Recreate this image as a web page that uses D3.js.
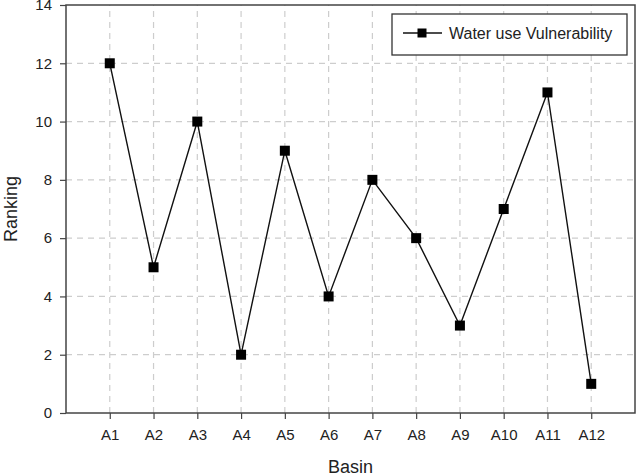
<!DOCTYPE html>
<html>
<head>
<meta charset="utf-8">
<script src="https://cdn.jsdelivr.net/npm/d3@7"></script>
<style>
  body { margin: 0; background: #fff; }
  text { font-family: "Liberation Sans", Arial, sans-serif; fill: #222; }
</style>
</head>
<body>
<div id="viz"></div>
<script>
const basins = ['A1', 'A2', 'A3', 'A4', 'A5', 'A6', 'A7', 'A8', 'A9', 'A10', 'A11', 'A12'];
const ranking = [12, 5, 10, 2, 9, 4, 8, 6, 3, 7, 11, 1];
const yTicks = [0, 2, 4, 6, 8, 10, 12, 14];
const seriesName = 'Water use Vulnerability';

const width = 638;
const height = 475;
const margin = {top: 5, right: 3, bottom: 62, left: 66};

const svg = d3.select('#viz')
    .append('svg')
        .attr('width', width)
        .attr('height', height);

// basins sit at 1..12, the frame runs 0..13
const x = d3.scaleLinear()
    .domain([0, basins.length + 1])
    .range([margin.left, width - margin.right]);

const y = d3.scaleLinear()
    .domain([0, 14])
    .range([height - margin.bottom, margin.top]);

const gridColor = '#cdcdcd';

// vertical grid
svg.append('g')
    .selectAll('line')
    .data(basins)
    .join('line')
        .attr('x1', (d, i) => x(i + 1))
        .attr('x2', (d, i) => x(i + 1))
        .attr('y1', y(0))
        .attr('y2', y(14))
        .attr('stroke', gridColor)
        .attr('stroke-width', 1.2)
        .attr('stroke-dasharray', '6,5');

// horizontal grid
svg.append('g')
    .selectAll('line')
    .data(yTicks.filter(d => d > 0 && d < 14))
    .join('line')
        .attr('x1', x(0))
        .attr('x2', x(basins.length + 1))
        .attr('y1', d => y(d))
        .attr('y2', d => y(d))
        .attr('stroke', gridColor)
        .attr('stroke-width', 1.2)
        .attr('stroke-dasharray', '6,5');

// axes
const xAxis = svg.append('g')
    .attr('transform', `translate(0, ${y(0)})`)
    .call(d3.axisBottom(x)
        .tickValues(d3.range(1, basins.length + 1))
        .tickFormat(d => basins[d - 1])
        .tickSize(6)
        .tickPadding(10));

const yAxis = svg.append('g')
    .attr('transform', `translate(${x(0)}, 0)`)
    .call(d3.axisLeft(y)
        .tickValues(yTicks)
        .tickSize(6)
        .tickPadding(8));

[xAxis, yAxis].forEach(g => {
    g.select('.domain').remove();
    g.selectAll('line').attr('stroke', '#444').attr('stroke-width', 1.2);
    g.selectAll('text')
        .attr('font-size', 15)
        .style('font-family', '"Liberation Sans", Arial, sans-serif')
        .attr('fill', '#222');
});

// frame
svg.append('rect')
    .attr('x', x(0))
    .attr('y', y(14))
    .attr('width', x(basins.length + 1) - x(0))
    .attr('height', y(0) - y(14))
    .attr('fill', 'none')
    .attr('stroke', '#444')
    .attr('stroke-width', 1.5);

// line
const line = d3.line()
    .x((d, i) => x(i + 1))
    .y(d => y(d));

svg.append('path')
    .attr('d', line(ranking))
    .attr('fill', 'none')
    .attr('stroke', '#111')
    .attr('stroke-width', 1.4);

const markerSize = 10;
svg.append('g')
    .selectAll('rect')
    .data(ranking)
    .join('rect')
        .attr('x', (d, i) => x(i + 1) - markerSize / 2)
        .attr('y', d => y(d) - markerSize / 2)
        .attr('width', markerSize)
        .attr('height', markerSize)
        .attr('fill', '#000');

// legend
const legend = svg.append('g').attr('transform', 'translate(392, 14)');
legend.append('rect')
    .attr('width', 235)
    .attr('height', 41)
    .attr('fill', '#fff')
    .attr('stroke', '#333')
    .attr('stroke-width', 1.3);
legend.append('line')
    .attr('x1', 11).attr('x2', 50)
    .attr('y1', 19).attr('y2', 19)
    .attr('stroke', '#111')
    .attr('stroke-width', 1.4);
legend.append('rect')
    .attr('x', 30 - 4.5).attr('y', 19 - 4.5)
    .attr('width', 9).attr('height', 9)
    .attr('fill', '#000');
legend.append('text')
    .attr('x', 57)
    .attr('y', 25)
    .attr('font-size', 16)
    .text(seriesName);

// axis titles
svg.append('text')
    .attr('x', (x(0) + x(basins.length + 1)) / 2)
    .attr('y', 473)
    .attr('text-anchor', 'middle')
    .attr('font-size', 18)
    .text('Basin');

svg.append('text')
    .attr('transform', `translate(17, ${(y(0) + y(14)) / 2}) rotate(-90)`)
    .attr('text-anchor', 'middle')
    .attr('font-size', 18)
    .text('Ranking');
</script>
</body>
</html>
